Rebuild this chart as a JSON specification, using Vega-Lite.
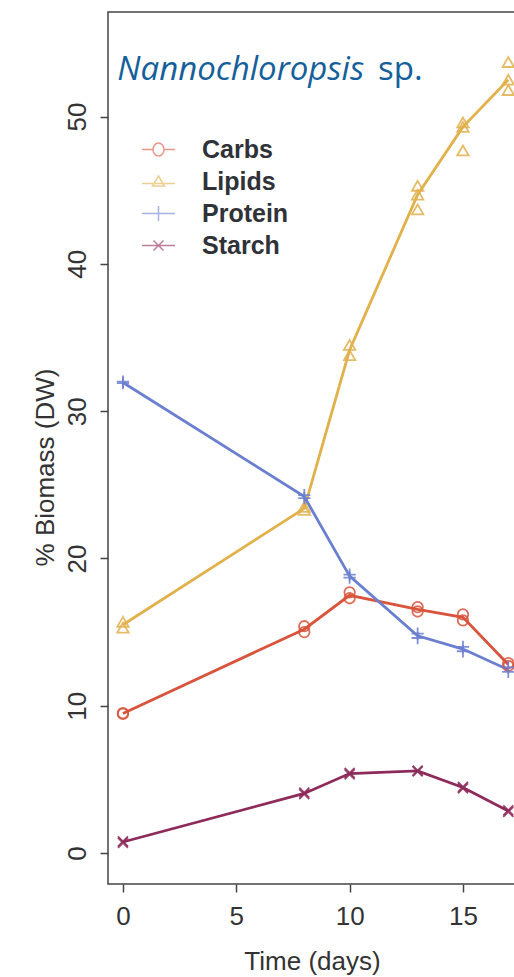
{
  "$schema": "https://vega.github.io/schema/vega-lite/v6.json",
  "width": 408,
  "height": 872,
  "autosize": "none",
  "padding": {"left": 108, "top": 12, "right": 0, "bottom": 93},
  "background": "white",
  "config": {
    "view": {"stroke": "#444", "strokeWidth": 1.5},
    "axis": {"grid": false, "domain": false, "tickColor": "#444", "tickWidth": 1.5, "tickSize": 8,
             "labelFont": "Liberation Sans", "titleFont": "Liberation Sans", "labelColor": "#333", "titleColor": "#333",
             "labelFontSize": 26, "titleFontSize": 26, "titleFontWeight": "normal"}
  },
  "datasets": {
    "obs": [
      {"day": 0, "component": "Carbs", "value": 9.5},
      {"day": 0, "component": "Carbs", "value": 9.45},
      {"day": 8, "component": "Carbs", "value": 15.4},
      {"day": 8, "component": "Carbs", "value": 15.0},
      {"day": 10, "component": "Carbs", "value": 17.7},
      {"day": 10, "component": "Carbs", "value": 17.3},
      {"day": 13, "component": "Carbs", "value": 16.7},
      {"day": 13, "component": "Carbs", "value": 16.4},
      {"day": 15, "component": "Carbs", "value": 16.2},
      {"day": 15, "component": "Carbs", "value": 15.8},
      {"day": 17, "component": "Carbs", "value": 12.9},
      {"day": 17, "component": "Carbs", "value": 12.7},
      {"day": 0, "component": "Lipids", "value": 15.7},
      {"day": 0, "component": "Lipids", "value": 15.3},
      {"day": 8, "component": "Lipids", "value": 23.5},
      {"day": 8, "component": "Lipids", "value": 23.3},
      {"day": 10, "component": "Lipids", "value": 34.5},
      {"day": 10, "component": "Lipids", "value": 33.8},
      {"day": 13, "component": "Lipids", "value": 45.3},
      {"day": 13, "component": "Lipids", "value": 44.7},
      {"day": 13, "component": "Lipids", "value": 43.7},
      {"day": 15, "component": "Lipids", "value": 49.6},
      {"day": 15, "component": "Lipids", "value": 49.3},
      {"day": 15, "component": "Lipids", "value": 47.7},
      {"day": 17, "component": "Lipids", "value": 53.7},
      {"day": 17, "component": "Lipids", "value": 52.5},
      {"day": 17, "component": "Lipids", "value": 51.8},
      {"day": 0, "component": "Protein", "value": 32.0},
      {"day": 0, "component": "Protein", "value": 31.9},
      {"day": 8, "component": "Protein", "value": 24.3},
      {"day": 8, "component": "Protein", "value": 24.1},
      {"day": 10, "component": "Protein", "value": 18.9},
      {"day": 10, "component": "Protein", "value": 18.7},
      {"day": 13, "component": "Protein", "value": 14.9},
      {"day": 13, "component": "Protein", "value": 14.6},
      {"day": 15, "component": "Protein", "value": 14.0},
      {"day": 15, "component": "Protein", "value": 13.7},
      {"day": 17, "component": "Protein", "value": 12.6},
      {"day": 17, "component": "Protein", "value": 12.3},
      {"day": 0, "component": "Starch", "value": 0.8},
      {"day": 0, "component": "Starch", "value": 0.7},
      {"day": 8, "component": "Starch", "value": 4.1},
      {"day": 8, "component": "Starch", "value": 4.0},
      {"day": 10, "component": "Starch", "value": 5.45},
      {"day": 10, "component": "Starch", "value": 5.35},
      {"day": 13, "component": "Starch", "value": 5.6},
      {"day": 13, "component": "Starch", "value": 5.55},
      {"day": 15, "component": "Starch", "value": 4.5},
      {"day": 15, "component": "Starch", "value": 4.4},
      {"day": 17, "component": "Starch", "value": 2.9},
      {"day": 17, "component": "Starch", "value": 2.8}
    ]
  },
  "encoding": {
    "x": {
      "field": "day", "type": "quantitative",
      "scale": {"domain": [-0.66, 17.34], "nice": false, "zero": false},
      "axis": {"values": [0, 5, 10, 15], "title": "Time (days)", "labelPadding": 11, "titleY": 64, "titleBaseline": "top"}
    },
    "y": {
      "field": "value", "type": "quantitative",
      "scale": {"domain": [-2.1, 57.1], "nice": false, "zero": false},
      "axis": {"values": [0, 10, 20, 30, 40, 50], "title": "% Biomass (DW)", "labelAngle": 270, "labelPadding": 10,
               "titleX": -50, "titleY": 455, "titleBaseline": "bottom", "titleAngle": 270}
    }
  },
  "layer": [
    {
      "data": {"name": "obs"},
      "mark": {"type": "point", "filled": false, "opacity": 0, "size": 100},
      "encoding": {
        "color": {
          "field": "component", "type": "nominal",
          "scale": {"domain": ["Carbs", "Lipids", "Protein", "Starch"], "range": ["#d8543c", "#e1b14c", "#6b7fd1", "#8e2b5b"]},
          "legend": {
            "title": null, "orient": "none", "legendX": 38, "legendY": 125, "padding": 0,
            "labelFont": "Liberation Sans", "labelFontSize": 25, "labelFontWeight": "bold", "labelColor": "#2f3237",
            "labelOffset": 31, "rowPadding": 6, "symbolSize": 100, "symbolOpacity": 0.6, "symbolStrokeWidth": 1.5,
            "symbolFillColor": "transparent"
          }
        },
        "shape": {
          "field": "component", "type": "nominal",
          "scale": {"domain": ["Carbs", "Lipids", "Protein", "Starch"],
                    "range": ["M-3.3,0L-1.1,0M1.1,0L3.3,0M1.1,0A1.1,1.3,0,1,1,-1.1,0A1.1,1.3,0,1,1,1.1,0",
                              "M-3.3,0.4L3.3,0.4M0,-1.1L1.2,0.9L-1.2,0.9Z",
                              "M-3.3,0L3.3,0M0,-1.5L0,1.5",
                              "M-3.3,0L3.3,0M-1,-1L1,1M-1,1L1,-1"]}
        }
      }
    },
    {
      "data": {"name": "obs"},
      "mark": {"type": "line", "strokeWidth": 2.8},
      "encoding": {
        "y": {"aggregate": "median", "field": "value", "type": "quantitative"},
        "color": {"field": "component", "type": "nominal"}
      }
    },
    {
      "data": {"name": "obs"},
      "transform": [{"filter": "datum.component === 'Carbs'"}],
      "mark": {"type": "point", "shape": "circle", "filled": false, "strokeWidth": 1.8, "opacity": 0.85, "size": 110},
      "encoding": {"color": {"field": "component", "type": "nominal"}}
    },
    {
      "data": {"name": "obs"},
      "transform": [{"filter": "datum.component === 'Lipids'"}],
      "mark": {"type": "point", "shape": "triangle-up", "filled": false, "strokeWidth": 1.8, "opacity": 0.85, "size": 130},
      "encoding": {"color": {"field": "component", "type": "nominal"}}
    },
    {
      "data": {"name": "obs"},
      "transform": [{"filter": "datum.component === 'Protein'"}],
      "mark": {"type": "point", "shape": "M-1,0L1,0M0,-1L0,1", "filled": false, "strokeWidth": 1.8, "opacity": 0.85, "size": 150},
      "encoding": {"color": {"field": "component", "type": "nominal"}}
    },
    {
      "data": {"name": "obs"},
      "transform": [{"filter": "datum.component === 'Starch'"}],
      "mark": {"type": "point", "shape": "M-1,-1L1,1M-1,1L1,-1", "filled": false, "strokeWidth": 1.8, "opacity": 0.85, "size": 100},
      "encoding": {"color": {"field": "component", "type": "nominal"}}
    },
    {
      "data": {"values": [{"day": -0.25, "value": 52.45, "text": "Nannochloropsis"}]},
      "mark": {"type": "text", "align": "left", "baseline": "alphabetic", "font": "Open Sans", "fontStyle": "italic", "fontSize": 33, "color": "#15609a"},
      "encoding": {"text": {"field": "text"}}
    },
    {
      "data": {"values": [{"day": 11.25, "value": 52.45, "text": "sp."}]},
      "mark": {"type": "text", "align": "left", "baseline": "alphabetic", "font": "Open Sans", "fontSize": 33, "color": "#15609a"},
      "encoding": {"text": {"field": "text"}}
    }
  ]
}
